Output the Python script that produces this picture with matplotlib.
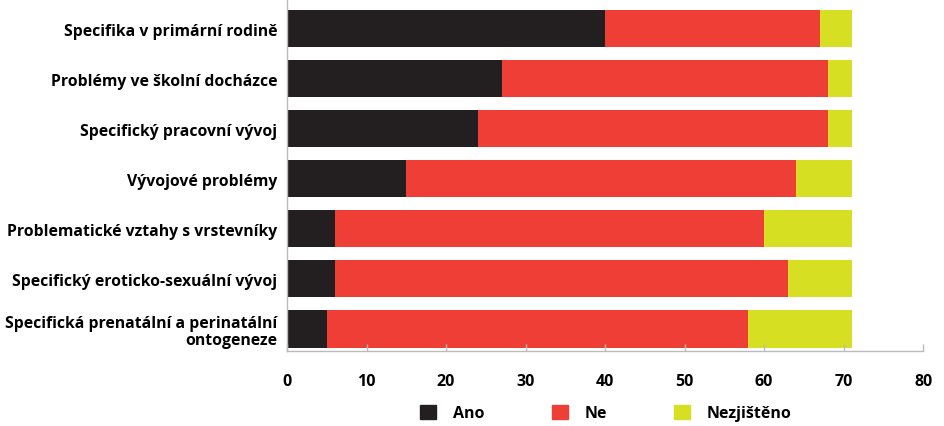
import matplotlib.pyplot as plt
from matplotlib.patches import Patch

plt.rcParams['font.family'] = ['Open Sans', 'DejaVu Sans']

categories = ["Specifika v primární rodině",
              "Problémy ve školní docházce",
              "Specifický pracovní vývoj",
              "Vývojové problémy",
              "Problematické vztahy s vrstevníky",
              "Specifický eroticko-sexuální vývoj",
              "Specifická prenatální a perinatální\nontogeneze"]
ano = [40, 27, 24, 15, 6, 6, 5]
ne = [27, 41, 44, 49, 54, 57, 53]
nezjisteno = [4, 3, 3, 7, 11, 8, 13]
series_names = ["Ano", "Ne", "Nezjištěno"]
colors = ["#231f20", "#ef3e36", "#d7df23"]

fig = plt.figure(figsize=(9.44, 4.27), dpi=100)
ax = fig.add_axes([0.304, 0.1756, 0.674, 0.824])

y = list(range(len(categories)))
left = [0] * len(categories)
for vals, c in zip([ano, ne, nezjisteno], colors):
    ax.barh(y, vals, left=left, height=0.74, color=c)
    left = [l + v for l, v in zip(left, vals)]

ax.set_ylim(6.44, -0.59)
ax.set_xlim(0, 80)
ax.set_xticks(range(0, 81, 10))
ax.set_yticks(y)
ax.set_yticklabels(categories, fontweight='bold', fontsize=11.3,
                   linespacing=1.05)
for lbl in ax.get_yticklabels():
    lbl.set_multialignment('right')
ax.tick_params(axis='y', length=0, pad=7)
ax.tick_params(axis='x', direction='in', length=5, color='#bbbbbb', width=1,
               labelsize=11.5, pad=16)
for lbl in ax.get_xticklabels():
    lbl.set_fontweight('bold')
for s in ['top', 'right']:
    ax.spines[s].set_visible(False)
for s in ['left', 'bottom']:
    ax.spines[s].set_color('#bbbbbb')
    ax.spines[s].set_linewidth(1)

handles = [Patch(color=c, label=n) for c, n in zip(colors, series_names)]
leg = fig.legend(handles=handles, loc='center', bbox_to_anchor=(0.642, 0.030),
                 ncol=3, frameon=False, handlelength=1.0, handleheight=1.0,
                 columnspacing=4.2, handletextpad=1.05,
                 prop={'weight': 'bold', 'size': 11.5})

fig.savefig('out.png', dpi=100)
